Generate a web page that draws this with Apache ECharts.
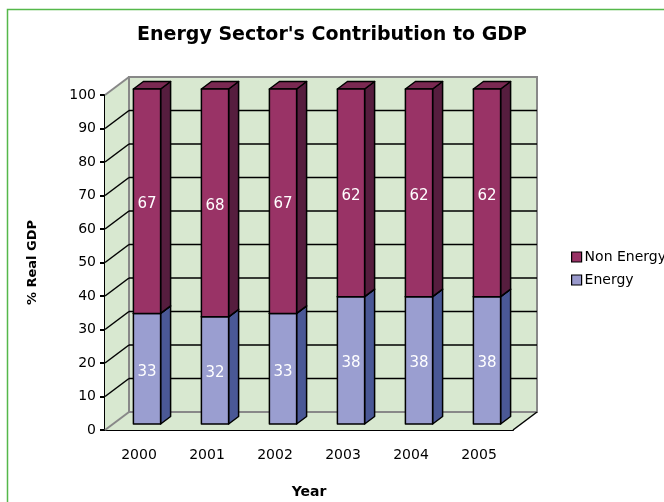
<!DOCTYPE html>
<html>
<head>
<meta charset="utf-8">
<script src="https://cdn.jsdelivr.net/npm/echarts@6/dist/echarts.min.js"></script>
<style>
html,body{margin:0;padding:0;background:#fff;}
#chart{width:664px;height:502px;}
</style>
</head>
<body>
<div id="chart"></div>
<script>
const categories = ['2000', '2001', '2002', '2003', '2004', '2005'];
const energy = [33, 32, 33, 38, 38, 38];
const nonEnergy = [67, 68, 67, 62, 62, 62];
const gridValues = [10, 20, 30, 40, 50, 60, 70, 80, 90];

const DEPTH = [24, -18];
const BAR_OFF = [8, -6];
const BAR_DEPTH = [10, -7.5];

const chart = echarts.init(document.getElementById('chart'), null, {renderer: 'canvas'});

function wallsRender(params, api) {
  const cs = params.coordSys;
  const L = cs.x, T = cs.y, R = cs.x + cs.width, B = cs.y + cs.height;
  const dx = DEPTH[0], dy = DEPTH[1];
  const wallFill = '#d8e8d0';
  const children = [];
  children.push({type: 'polygon', shape: {points: [[L, B], [R, B], [R + dx, B + dy], [L + dx, B + dy]]},
    style: {fill: wallFill, stroke: null}});
  children.push({type: 'polygon', shape: {points: [[L, B], [L, T], [L + dx, T + dy], [L + dx, B + dy]]},
    style: {fill: wallFill, stroke: null}});
  children.push({type: 'rect', shape: {x: L + dx, y: T + dy, width: cs.width, height: cs.height},
    style: {fill: wallFill, stroke: '#888', lineWidth: 2}});
  gridValues.forEach(function (v) {
    const y = api.coord([0, v])[1];
    children.push({type: 'line', shape: {x1: L + dx, y1: y + dy, x2: R + dx, y2: y + dy},
      style: {stroke: '#000', lineWidth: 1.5}});
    children.push({type: 'line', shape: {x1: L, y1: y, x2: L + dx, y2: y + dy},
      style: {stroke: '#000', lineWidth: 1.5}});
  });
  children.push({type: 'line', shape: {x1: L, y1: T, x2: L + dx, y2: T + dy}, style: {stroke: '#888', lineWidth: 2}});
  children.push({type: 'line', shape: {x1: L, y1: B, x2: L + dx, y2: B + dy}, style: {stroke: '#888', lineWidth: 2}});
  children.push({type: 'line', shape: {x1: R, y1: B, x2: R + dx, y2: B + dy}, style: {stroke: '#000', lineWidth: 1.5}});
  return {type: 'group', children: children};
}

function makeBarRender(faceColor, sideColor, topColor) {
  return function (params, api) {
    const cat = api.value(0), base = api.value(1), val = api.value(2);
    const p0 = api.coord([cat, base]);
    const p1 = api.coord([cat, base + val]);
    const bw = api.size([1, 0])[0] * 0.4;
    const x0 = p0[0] - bw / 2 + BAR_OFF[0];
    const x1 = x0 + bw;
    const yb = p0[1] + BAR_OFF[1];
    const yt = p1[1] + BAR_OFF[1];
    const ddx = BAR_DEPTH[0], ddy = BAR_DEPTH[1];
    const stroke = {stroke: '#000', lineWidth: 1.5, lineJoin: 'round'};
    return {
      type: 'group',
      children: [
        {type: 'polygon', shape: {points: [[x1, yb], [x1 + ddx, yb + ddy], [x1 + ddx, yt + ddy], [x1, yt]]},
          style: Object.assign({fill: sideColor}, stroke)},
        {type: 'polygon', shape: {points: [[x0, yt], [x1, yt], [x1 + ddx, yt + ddy], [x0 + ddx, yt + ddy]]},
          style: Object.assign({fill: topColor}, stroke)},
        {type: 'rect', shape: {x: x0, y: yt, width: bw, height: yb - yt},
          style: Object.assign({fill: faceColor}, stroke)},
        {type: 'text', style: {text: String(val), x: (x0 + x1) / 2, y: (yb + yt) / 2 + 3,
          fill: '#fff', font: '15px "DejaVu Sans"', align: 'center', verticalAlign: 'middle'}}
      ]
    };
  };
}

const energyData = energy.map(function (v, i) { return [i, 0, v]; });
const nonEnergyData = nonEnergy.map(function (v, i) { return [i, energy[i], v]; });

const option = {
  backgroundColor: '#fff',
  animation: false,
  title: {
    text: "Energy Sector's Contribution to GDP",
    left: 'center',
    top: 21,
    textStyle: {fontFamily: '"DejaVu Sans"', fontWeight: 'bold', fontSize: 19, color: '#000'}
  },
  legend: {
    orient: 'vertical',
    left: 566,
    top: 245,
    itemWidth: 10,
    itemHeight: 10,
    itemGap: 9,
    icon: 'rect',
    data: ['Non Energy', 'Energy'],
    itemStyle: {borderColor: '#000', borderWidth: 1.2},
    textStyle: {fontFamily: '"DejaVu Sans"', fontSize: 14, color: '#000', padding: [0, 0, 0, -2]}
  },
  grid: {left: 105, top: 95, width: 408, height: 335, containLabel: false, outerBoundsMode: 'none'},
  xAxis: {
    type: 'category',
    data: categories,
    name: 'Year',
    nameLocation: 'middle',
    nameGap: 55,
    nameTextStyle: {fontFamily: '"DejaVu Sans"', fontWeight: 'bold', fontSize: 14, color: '#000'},
    axisLine: {lineStyle: {color: '#000', width: 2}},
    axisTick: {length: 6, lineStyle: {color: '#000', width: 2}},
    axisLabel: {margin: 18, fontFamily: '"DejaVu Sans"', fontSize: 14, color: '#000'}
  },
  yAxis: {
    type: 'value',
    min: 0,
    max: 100,
    interval: 10,
    name: '% Real GDP',
    nameLocation: 'middle',
    nameGap: 66,
    nameRotate: 90,
    nameTextStyle: {fontFamily: '"DejaVu Sans"', fontWeight: 'bold', fontSize: 13, color: '#000'},
    axisLine: {show: true, lineStyle: {color: '#000', width: 2}},
    axisTick: {show: true, length: 5, lineStyle: {color: '#000', width: 2}},
    axisLabel: {margin: 9, fontFamily: '"DejaVu Sans"', fontSize: 14, color: '#000'},
    splitLine: {show: false}
  },
  graphic: [{
    type: 'rect', z: 100, silent: true,
    shape: {x: 7.5, y: 9.5, width: 700, height: 600},
    style: {fill: null, stroke: '#55b84a', lineWidth: 1.5}
  }],
  series: [
    {
      name: 'walls', type: 'custom', z: 1, silent: true,
      renderItem: wallsRender,
      data: [[0, 0]],
      tooltip: {show: false}
    },
    {
      name: 'Energy', type: 'custom', z: 3,
      itemStyle: {color: '#9999cc'},
      renderItem: makeBarRender('#9a9ed0', '#4a5896', '#6e74b0'),
      data: energyData
    },
    {
      name: 'Non Energy', type: 'custom', z: 4,
      itemStyle: {color: '#993366'},
      renderItem: makeBarRender('#993366', '#561d3e', '#7a2952'),
      data: nonEnergyData
    }
  ]
};
chart.setOption(option);
</script>
</body>
</html>
